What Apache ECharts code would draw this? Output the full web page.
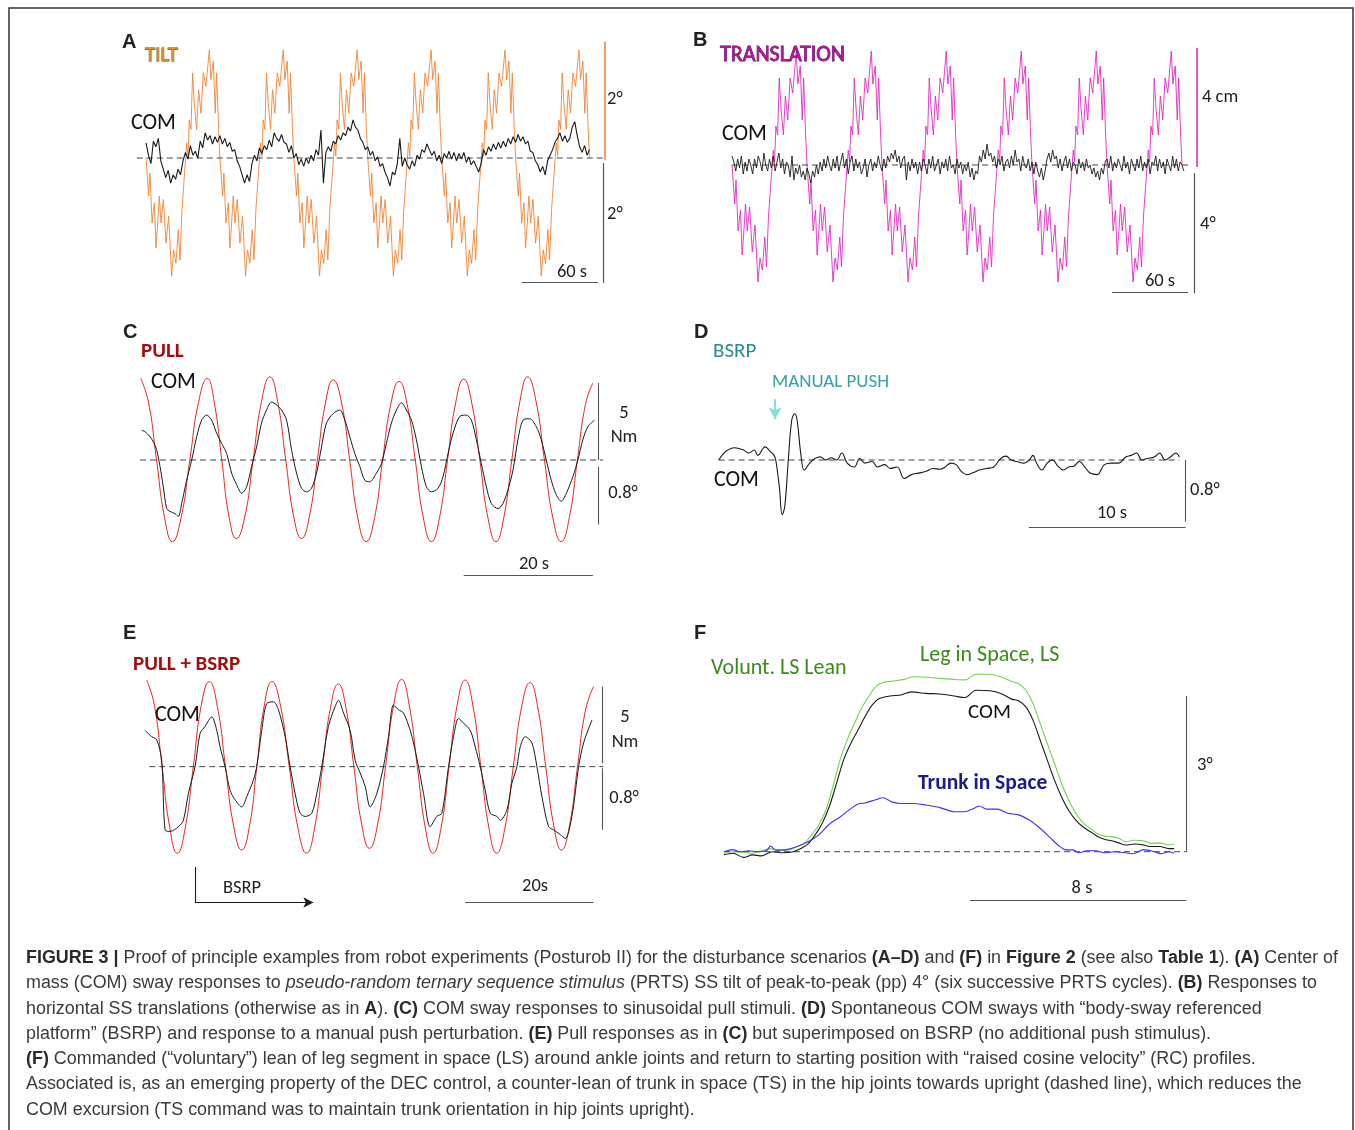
<!DOCTYPE html>
<html><head><meta charset="utf-8">
<script src="https://cdn.jsdelivr.net/npm/echarts/dist/echarts.min.js"></script>
<style>html,body{margin:0;padding:0;background:#fff}#c{width:1355px;height:1130px}</style>
</head><body><div id="c"></div>
<script>
// ---------------- DATA ----------------
// A/B: one PRTS stimulus cycle (60 s), tilt in deg
const prtsCycleT = [0,2.2,3.2,4.9,6.8,8.1,9.5,10.8,12.2,14.1,16.2,18.4,20.8,22.4,24.3,26.2,27.6,29.2,31.1,33.0,34.1,35.1,36.5,37.8,39.2,41.1,42.7,44.6,46.5,48.6,51.4,52.7,54.6,56.2,57.3,58.9,60];
const tiltCycleV = [0,-0.68,-0.27,-1.16,-0.80,-1.61,-1.16,-0.68,-1.16,-0.74,-1.52,-1.04,-2.11,-1.64,-1.88,-1.28,-1.82,-0.92,-0.33,0.27,0.03,0.68,0.51,1.52,0.98,0.51,1.22,0.80,1.52,1.28,1.93,1.40,1.73,0.80,1.52,0.51,0];
// translation in cm
const transCycleV = [0,-1.3,-0.5,-2.2,-1.5,-3.0,-2.2,-1.3,-2.2,-1.4,-2.9,-2.0,-3.9,-3.1,-3.5,-2.4,-3.4,-1.7,-0.6,0.5,0.1,1.3,1.0,2.9,1.9,1.0,2.3,1.5,2.9,2.4,3.8,2.7,3.3,1.5,2.9,1.0,0];
const prtsCycles = 6, prtsPeriod = 60;
// A: COM (deg), sampled every 2 s
const comAStep = 2;
const comA = [0.27,0.05,-0.10,0.30,0.20,0.35,-0.05,-0.20,-0.35,-0.22,
-0.45,-0.30,-0.38,-0.20,-0.30,-0.05,0.10,-0.02,0.22,0.05,
0.12,0.00,0.30,0.18,0.45,0.32,0.40,0.25,0.38,0.28,
0.40,0.25,0.35,0.20,0.28,0.12,0.15,-0.05,-0.15,-0.30,
-0.45,-0.30,-0.42,-0.10,0.05,-0.05,0.18,0.08,0.22,0.15,
0.32,0.20,0.45,0.35,0.30,0.42,0.28,0.25,0.10,0.22,
0.00,0.08,-0.12,-0.02,-0.15,0.00,-0.10,0.05,-0.05,0.15,
0.05,0.50,-0.45,0.10,0.20,0.12,0.30,0.25,0.40,0.32,
0.45,0.40,0.55,0.48,0.68,0.55,0.50,0.35,0.28,0.15,
0.20,0.05,0.12,-0.05,0.02,-0.15,-0.10,-0.25,-0.35,-0.50,
-0.25,-0.30,-0.10,0.35,-0.15,0.00,-0.12,-0.20,-0.05,-0.15,
0.05,-0.02,0.15,0.10,0.25,0.15,0.05,0.12,-0.05,0.05,
-0.10,0.08,0.00,0.12,-0.02,0.10,-0.05,0.08,-0.02,0.10,
-0.08,0.02,-0.12,-0.05,-0.15,-0.25,-0.10,0.15,0.05,0.20,
0.12,0.25,0.15,0.28,0.18,0.30,0.20,0.35,0.25,0.38,
0.28,0.42,0.30,0.38,0.25,0.30,0.12,0.10,-0.05,-0.12,
-0.25,-0.15,-0.30,-0.05,0.05,0.15,0.28,0.35,0.45,0.30,
0.40,0.28,0.35,0.55,0.65,0.40,0.20,0.10,0.22,0.05,
0.15];
// B: COM (deg), sampled every 1.5 s
const comBStep = 1.5;
const comB = [0.3,0.1,-0.2,0.2,-0.1,0.3,-0.3,0.1,-0.2,0.2,0.0,-0.3,0.2,-0.1,0.3,0.1,-0.2,0.4,0.0,-0.2,
0.2,-0.1,0.3,-0.2,0.1,0.4,-0.1,0.2,-0.3,0.1,0.0,-0.4,0.3,-0.5,-0.1,-0.3,0.0,-0.4,-0.2,-0.5,
-0.1,-0.3,-0.6,-0.2,-0.4,0.0,-0.3,0.1,-0.2,0.2,-0.1,0.3,0.0,-0.2,0.2,-0.1,0.3,-0.2,0.1,0.4,
-0.1,0.2,-0.3,0.1,0.3,-0.2,0.2,-0.1,0.1,-0.3,-0.1,0.2,-0.4,0.0,0.2,-0.2,0.1,-0.1,0.3,0.0,
-0.2,0.2,-0.1,0.3,0.1,0.4,0.2,0.5,0.1,0.3,-0.1,0.2,0.3,-0.5,0.1,-0.2,0.2,-0.1,0.1,-0.3,
0.1,-0.2,0.2,0.0,-0.3,0.2,-0.1,0.3,-0.2,0.0,0.2,-0.3,0.1,-0.1,0.2,-0.2,0.3,-0.1,0.0,-0.3,
0.2,-0.1,0.1,-0.3,0.0,-0.2,0.1,-0.4,-0.1,-0.5,-0.2,-0.3,0.3,0.1,0.5,0.2,0.7,0.3,0.4,0.1,
0.3,-0.1,0.2,0.0,0.3,-0.2,0.1,0.2,-0.1,0.3,0.0,0.5,0.1,0.2,-0.2,0.3,0.0,-0.1,0.2,-0.2,
0.1,-0.3,0.1,-0.2,-0.4,-0.1,-0.5,-0.2,0.2,0.4,0.1,0.5,0.2,0.3,-0.1,0.2,-0.2,0.1,0.3,-0.1,
0.2,-0.2,0.1,0.0,-0.3,0.2,-0.1,0.1,-0.2,0.2,-0.1,0.0,-0.3,-0.1,-0.4,-0.2,-0.5,-0.1,-0.3,0.1,
0.2,-0.1,0.3,-0.2,0.1,-0.1,0.2,0.0,-0.2,0.3,-0.1,0.1,-0.3,0.2,0.0,-0.2,0.2,-0.1,0.3,-0.2,
0.1,-0.1,0.2,-0.3,0.1,0.0,0.3,-0.2,0.2,-0.1,0.1,-0.3,0.2,0.0,-0.2,0.3,-0.1,0.2,-0.2,0.1,
0.0,-0.2];
// C: pull torque (Nm) and COM (deg) as [t s, value]
const pullC = [[0,5.3],[1.2,3.75],[2.45,0],[3.7,-3.75],[4.9,-5.3],[6.25,-3.75],[7.6,0],[8.95,3.75],[10.3,5.3],[11.4,3.7],[12.55,0],[13.7,-3.75],[14.8,-5.1],[16.1,-3.7],[17.4,0],[18.7,3.8],[20.0,5.4],[21.2,3.8],[22.45,0],[23.7,-3.7],[24.9,-5.1],[26.1,-3.7],[27.35,0],[28.6,3.7],[29.8,5.2],[31.1,3.7],[32.35,0],[33.6,-3.75],[34.9,-5.3],[36.2,-3.75],[37.45,0],[38.7,3.6],[40.0,5.1],[41.25,3.6],[42.5,0],[43.75,-3.75],[45.0,-5.3],[46.25,-3.75],[47.5,0],[48.75,3.7],[50.0,5.25],[51.25,3.7],[52.5,0],[53.75,-3.75],[55.0,-5.3],[56.2,-3.75],[57.45,0],[58.7,3.8],[59.9,5.4],[61.2,3.8],[62.5,0],[63.8,-3.75],[65.1,-5.3],[66.35,-3.75],[67.6,0],[68.85,3.6],[70.0,5.0]];
const comC = [[0.15,0.41],[0.67,0.39],[1.44,0.32],[1.96,0.25],[2.47,0.14],[2.99,-0.09],[3.5,-0.37],[4.02,-0.67],[4.54,-0.71],[5.31,-0.74],[5.82,-0.78],[6.34,-0.60],[7.11,-0.28],[7.89,0],[8.66,0.32],[9.43,0.55],[10.2,0.62],[10.98,0.55],[11.75,0.37],[12.53,0.23],[13.3,0.09],[14.07,-0.18],[14.85,-0.34],[15.62,-0.46],[16.39,-0.37],[17.16,-0.09],[17.94,0.18],[18.71,0.51],[19.48,0.69],[20.26,0.80],[21.03,0.76],[21.8,0.69],[22.58,0.55],[23.35,0.14],[24.12,-0.18],[24.9,-0.39],[25.67,-0.44],[26.44,-0.39],[27.22,-0.18],[27.99,0.18],[28.76,0.51],[29.79,0.64],[30.82,0.69],[31.6,0.55],[32.37,0.32],[33.14,0.09],[33.92,-0.09],[34.69,-0.28],[35.46,-0.30],[36.49,-0.18],[37.27,-0.05],[38.04,0.23],[38.81,0.51],[39.59,0.69],[40.36,0.79],[41.13,0.69],[41.91,0.55],[42.68,0.28],[43.45,-0.09],[44.23,-0.37],[45,-0.44],[46.03,-0.39],[46.8,-0.23],[47.58,0.09],[48.35,0.37],[49.38,0.60],[50.41,0.62],[51.19,0.55],[51.96,0.28],[52.73,-0.05],[53.51,-0.37],[54.28,-0.60],[55.31,-0.67],[56.08,-0.60],[56.86,-0.41],[57.63,-0.14],[58.4,0.28],[59.18,0.55],[60.21,0.57],[61.24,0.46],[62.01,0.28],[62.78,0],[63.56,-0.28],[64.33,-0.48],[65.1,-0.57],[65.88,-0.46],[66.91,-0.23],[67.68,0],[68.45,0.28],[69.23,0.46],[70.26,0.55]];
// D: BSRP COM (deg)
const comD = [[0,0],[0.45,0.11],[1.02,0.16],[1.59,0.13],[1.93,0.09],[2.27,0.13],[2.5,0.06],[2.96,0.17],[3.3,0.11],[3.53,0.06],[3.64,0],[3.87,-0.35],[4.05,-0.71],[4.21,-0.61],[4.44,0],[4.66,0.52],[4.85,0.60],[5.0,0.52],[5.23,0.09],[5.46,-0.13],[5.8,-0.04],[6.14,0.02],[6.48,0.04],[6.82,0],[7.17,0.03],[7.51,0],[7.85,0.09],[8.19,-0.04],[8.64,-0.09],[8.99,0.02],[9.33,-0.04],[9.78,-0.02],[10.12,-0.09],[10.58,-0.06],[10.92,-0.11],[11.37,-0.09],[11.83,-0.24],[12.28,-0.19],[12.74,-0.17],[13.19,-0.15],[13.65,-0.11],[14.1,-0.12],[14.44,-0.09],[14.79,-0.04],[15.13,-0.06],[15.47,-0.15],[15.81,-0.19],[16.15,-0.17],[16.61,-0.13],[17.06,-0.11],[17.52,-0.09],[17.97,0.02],[18.31,0.05],[18.65,0],[18.99,-0.02],[19.45,-0.04],[19.79,0],[20.02,0.06],[20.25,-0.04],[20.59,-0.13],[20.93,-0.04],[21.27,0],[21.61,-0.08],[21.95,-0.13],[22.29,-0.09],[22.63,-0.08],[22.98,-0.02],[23.32,-0.09],[23.66,-0.17],[24.11,-0.19],[24.57,-0.06],[25.02,-0.04],[25.48,-0.04],[25.93,0.04],[26.27,0.06],[26.62,0.09],[26.96,0],[27.3,0.02],[27.75,0.04],[28.09,0.09],[28.44,0],[28.78,0.04],[29.12,0.09],[29.35,0.04]];
const pushTime = 3.6;
// E: pull torque (Nm) and COM (deg)
const pullE = [[0,5.66],[1.2,4.0],[2.4,0],[3.6,-4.0],[4.77,-5.66],[6.0,-4.0],[7.26,0],[8.5,4.0],[9.75,5.56],[11.0,3.95],[12.27,0],[13.55,-3.9],[14.8,-5.45],[16.0,-3.9],[17.15,0],[18.3,3.95],[19.5,5.56],[20.85,3.95],[22.2,0],[23.55,-4.0],[24.9,-5.66],[26.15,-4.0],[27.4,0],[28.6,3.8],[29.85,5.4],[31.05,3.8],[32.27,0],[33.5,-3.8],[34.7,-5.34],[35.95,-3.8],[37.2,0],[38.45,4.0],[39.7,5.7],[40.9,4.0],[42.15,0],[43.4,-4.0],[44.6,-5.66],[45.85,-4.0],[47.1,0],[48.35,4.0],[49.6,5.66],[50.8,4.0],[52.05,0],[53.3,-4.0],[54.5,-5.66],[55.8,-4.0],[57.1,0],[58.4,3.9],[59.7,5.49],[60.9,3.9],[62.15,0],[63.4,-3.85],[64.6,-5.45],[65.85,-3.85],[67.1,0],[68.35,3.7],[69.6,5.23]];
const comE = [[-0.26,0.46],[0.78,0.38],[1.56,0.34],[2.34,0.08],[2.86,-0.80],[3.64,-0.82],[4.94,-0.76],[5.71,-0.68],[6.49,-0.34],[7.53,0],[8.31,0.42],[9.09,0.51],[10.13,0.63],[10.91,0.46],[11.43,0.25],[12.21,0],[12.99,-0.30],[13.77,-0.42],[14.81,-0.51],[15.58,-0.38],[16.62,-0.17],[17.14,0],[17.92,0.46],[18.70,0.80],[19.74,0.82],[20.52,0.72],[21.56,0.38],[22.34,0],[23.12,-0.34],[23.90,-0.59],[24.68,-0.63],[25.71,-0.59],[26.49,-0.34],[27.27,0],[28.31,0.51],[29.35,0.76],[29.87,0.84],[30.65,0.68],[31.69,0.46],[32.47,0.08],[33.25,-0.08],[34.03,-0.25],[34.81,-0.51],[35.84,-0.34],[36.88,0],[37.66,0.38],[38.44,0.78],[39.22,0.72],[40.00,0.68],[41.04,0.46],[41.56,0.30],[42.34,0],[43.12,-0.34],[44.16,-0.76],[45.19,-0.63],[45.97,-0.59],[47.01,0],[47.79,0.38],[48.57,0.61],[49.35,0.55],[50.39,0.46],[51.17,0.25],[51.95,0],[52.73,-0.30],[53.51,-0.59],[54.55,-0.63],[55.06,-0.68],[56.10,-0.55],[56.88,-0.21],[57.66,0],[58.18,0.25],[58.96,0.38],[60.00,0.30],[60.78,0],[61.56,-0.38],[62.60,-0.76],[63.38,-0.80],[64.42,-0.86],[65.19,-0.91],[66.23,-0.63],[67.27,0],[68.05,0.30],[69.35,0.59]];
// F: voluntary lean (deg)
const legF = [[0,-0.03],[0.33,0],[0.73,-0.01],[0.99,-0.03],[1.39,0.02],[1.72,0.06],[2.05,0.03],[2.45,0.04],[2.71,0.10],[2.98,0.17],[3.24,0.32],[3.5,0.51],[3.77,0.80],[4.03,1.25],[4.3,1.77],[4.56,2.15],[4.83,2.47],[5.09,2.76],[5.36,2.99],[5.62,3.18],[5.89,3.26],[6.28,3.29],[6.68,3.32],[7.01,3.37],[7.47,3.36],[8.0,3.34],[8.53,3.32],[8.93,3.31],[9.33,3.42],[9.85,3.42],[10.25,3.37],[10.65,3.28],[10.91,3.24],[11.18,3.11],[11.44,2.86],[11.71,2.47],[11.97,2.09],[12.24,1.70],[12.5,1.32],[12.76,1.00],[13.03,0.74],[13.29,0.56],[13.56,0.45],[13.82,0.35],[14.09,0.30],[14.35,0.29],[14.62,0.26],[14.88,0.19],[15.21,0.22],[15.54,0.21],[15.81,0.16],[16.14,0.17],[16.47,0.13],[16.67,0.15]];
const comF = [[0,-0.06],[0.33,-0.03],[0.73,-0.11],[1.06,-0.06],[1.39,-0.08],[1.79,0],[2.18,-0.02],[2.58,0],[2.84,0.06],[3.11,0.15],[3.37,0.32],[3.64,0.55],[3.9,0.87],[4.17,1.32],[4.43,1.77],[4.7,2.09],[4.96,2.34],[5.22,2.60],[5.49,2.83],[5.75,2.95],[6.15,3.0],[6.55,3.02],[6.94,3.08],[7.47,3.05],[8.0,3.04],[8.53,3.0],[8.93,2.97],[9.33,3.11],[9.85,3.10],[10.25,3.05],[10.65,2.94],[10.91,2.91],[11.18,2.79],[11.44,2.54],[11.71,2.15],[11.97,1.77],[12.24,1.38],[12.5,1.06],[12.76,0.80],[13.03,0.61],[13.29,0.48],[13.56,0.39],[13.82,0.30],[14.09,0.24],[14.35,0.21],[14.62,0.17],[14.88,0.13],[15.21,0.15],[15.54,0.13],[15.81,0.10],[16.14,0.10],[16.47,0.06],[16.67,0.06]];
const trunkF = [[0,0],[0.33,0.04],[0.6,0],[0.93,0.02],[1.26,0],[1.59,0.03],[1.72,0.11],[1.92,0.03],[2.31,0.04],[2.71,0.10],[3.11,0.19],[3.5,0.32],[3.9,0.53],[4.3,0.67],[4.7,0.83],[4.96,0.92],[5.22,0.94],[5.62,1.0],[5.89,1.04],[6.22,0.96],[6.55,0.93],[7.01,0.93],[7.47,0.90],[8.0,0.85],[8.53,0.77],[8.93,0.77],[9.19,0.82],[9.46,0.88],[9.72,0.82],[10.12,0.82],[10.52,0.74],[10.91,0.71],[11.31,0.61],[11.57,0.51],[11.84,0.39],[12.1,0.26],[12.37,0.13],[12.63,0.04],[12.96,0.03],[13.16,-0.02],[13.43,0.02],[13.76,0.02],[14.09,-0.02],[14.48,0],[14.88,-0.02],[15.15,-0.04],[15.54,0.04],[15.94,0],[16.2,-0.04],[16.47,0],[16.67,-0.03]];
// Caption
const captionLines = [
 '{b|FIGURE 3 |} Proof of principle examples from robot experiments (Posturob II) for the disturbance scenarios {b|(A–D)} and {b|(F)} in {b|Figure 2} (see also {b|Table 1}). {b|(A)} Center of',
 'mass (COM) sway responses to {i|pseudo-random ternary sequence stimulus} (PRTS) SS tilt of peak-to-peak (pp) 4° (six successive PRTS cycles). {b|(B)} Responses to',
 'horizontal SS translations (otherwise as in {b|A}). {b|(C)} COM sway responses to sinusoidal pull stimuli. {b|(D)} Spontaneous COM sways with “body-sway referenced',
 'platform” (BSRP) and response to a manual push perturbation. {b|(E)} Pull responses as in {b|(C)} but superimposed on BSRP (no additional push stimulus).',
 '{b|(F)} Commanded (“voluntary”) lean of leg segment in space (LS) around ankle joints and return to starting position with “raised cosine velocity” (RC) profiles.',
 'Associated is, as an emerging property of the DEC control, a counter-lean of trunk in space (TS) in the hip joints towards upright (dashed line), which reduces the',
 'COM excursion (TS command was to maintain trunk orientation in hip joints upright).'
];

// ---------------- BUILD ----------------
function repeatCycle(T, V, n, period) {
  const out = [];
  for (let k = 0; k < n; k++) for (let i = 0; i < T.length; i++) out.push([T[i] + k * period, V[i]]);
  return out;
}
const stepped = (arr, step) => arr.map((v, i) => [i * step, v]);

const C_TILT = '#f08436', C_TRANS = '#e02cc2', C_RED = '#e8231f', C_GREEN = '#74d052', C_BLUE = '#3d35e6';
const GREY = '#555', BLACK = '#1a1a1a';

const grids = [
  {left: 133.7, top: 18, width: 474.3, height: 280},
  {left: 725.75, top: 30, width: 475, height: 270},
  {left: 127.8, top: 336.8, width: 478, height: 246.4},
  {left: 702.9, top: 367.6, width: 502.4, height: 184.8},
  {left: 133.86, top: 621.3, width: 475.1, height: 290.7},
  {left: 710.5, top: 644.1, width: 486, height: 269.9}
];
const xr = [[-10, 375], [-5, 375], [-2, 72], [-1, 31], [-2, 72], [-0.5, 17.5]];
const xAxis = xr.map((r, i) => ({type: 'value', gridIndex: i, min: r[0], max: r[1], show: false}));
const yr = [[0, -2.5, 2.5], [1, -4.5, 4.5], [2, -8, 8], [2, -1.7, 1.7], [3, -1.2, 1.2], [4, -9.5, 9.5], [4, -1.84, 1.84], [5, -1.2, 4]];
const yAxis = yr.map(r => ({type: 'value', gridIndex: r[0], min: r[1], max: r[2], show: false}));

function ln(xi, yi, data, color, w, extra) {
  return Object.assign({type: 'line', xAxisIndex: xi, yAxisIndex: yi, data, symbol: 'none', silent: true,
    animation: false, lineStyle: {color, width: w}}, extra || {});
}
function seg(a, b, color, w, sym) {
  return [{coord: a, symbol: sym ? sym[0] : 'none', lineStyle: {color, width: w, type: 'solid'}},
          {coord: b, symbol: sym ? sym[1] : 'none', lineStyle: {color, width: w, type: 'solid'}}];
}
function ml(segs, symSize) {
  return {silent: true, animation: false, symbol: 'none', symbolSize: symSize || [9, 11], label: {show: false}, data: segs};
}
function zero(xi, yi, x0, x1, segs, symSize) {
  return ln(xi, yi, [[x0, 0], [x1, 0]], '#444', 1, {lineStyle: {color: '#444', width: 1, type: [6, 4]}, markLine: segs ? ml(segs, symSize) : undefined});
}

const series = [
  // A
  ln(0, 0, repeatCycle(prtsCycleT, tiltCycleV, prtsCycles, prtsPeriod), C_TILT, 0.9),
  zero(0, 0, -7.5, 371, [
    seg([372.5, 2.08], [372.5, -0.03], C_TILT, 1.6),
    seg([371, -0.09], [371, -2.23], GREY, 1.2),
    seg([305, -2.21], [367, -2.21], GREY, 1.2)]),
  ln(0, 0, stepped(comA, comAStep), BLACK, 1.1),
  // B
  ln(1, 1, repeatCycle(prtsCycleT, transCycleV, prtsCycles, prtsPeriod), C_TRANS, 0.9),
  zero(1, 1, 0, 367.8, [
    seg([372, 3.9], [372, -0.07], C_TRANS, 1.6),
    seg([369.6, -0.27], [369.6, -4.27], GREY, 1.2),
    seg([304, -4.23], [364.8, -4.23], GREY, 1.2)]),
  ln(1, 1, stepped(comB, comBStep), BLACK, 0.9),
  // C
  ln(2, 2, pullC, C_RED, 1, {smooth: 0.5, markLine: ml([seg([70.8, 5.0], [70.8, 0], GREY, 1.1)])}),
  zero(2, 3, -0.1, 71.6, [
    seg([70.8, -0.09], [70.8, -0.89], GREY, 1.1),
    seg([50, -1.59], [70, -1.59], GREY, 1.1)]),
  ln(2, 3, comC, BLACK, 1, {smooth: 0.3}),
  // D
  zero(3, 4, 0, 29.35, [
    seg([29.75, 0], [29.75, -0.8], GREY, 1.1),
    seg([19.75, -0.87], [29.75, -0.87], GREY, 1.1),
    seg([pushTime, 0.79], [pushTime, 0.53], '#7fe0dc', 2.2, ['none', 'arrow'])], [10, 12]),
  ln(3, 4, comD, BLACK, 1.1, {smooth: 0.4}),
  // E
  ln(4, 5, pullE, C_RED, 1, {smooth: 0.5, markLine: ml([seg([70.9, 5.23], [70.9, 0.22], GREY, 1.1)])}),
  zero(4, 6, 0.4, 71.1, [
    seg([70.9, -0.02], [70.9, -0.8], GREY, 1.1),
    seg([49.6, -1.72], [69.6, -1.72], GREY, 1.1),
    seg([7.52, -1.27], [7.52, -1.72], BLACK, 1.1),
    seg([7.52, -1.72], [25.95, -1.72], BLACK, 1.1, ['none', 'arrow'])], [8, 10]),
  ln(4, 6, comE, BLACK, 1, {smooth: 0.3}),
  // F
  zero(5, 7, 0, 17.13, [
    seg([17.13, 3.0], [17.13, 0], GREY, 1.1),
    seg([9.11, -0.93], [17.13, -0.93], GREY, 1.1)]),
  ln(5, 7, legF, C_GREEN, 1.1, {smooth: 0.3}),
  ln(5, 7, comF, BLACK, 1.1, {smooth: 0.3}),
  ln(5, 7, trunkF, C_BLUE, 1.1, {smooth: 0.3})
];

// ---------------- TEXT ----------------
const FF = 'Carlito, Lato, "Open Sans", sans-serif';
const LF = '"Liberation Sans", Arial, sans-serif';
function T(text, x, y, size, fill, opt) {
  opt = opt || {};
  const font = (opt.weight ? opt.weight + ' ' : '') + size + 'px ' + (opt.family || FF);
  const st = {text, fill, font, align: opt.align || 'left', verticalAlign: 'middle',
              textAlign: opt.align || 'left', textVerticalAlign: 'middle'};
  if (opt.stroke) { st.stroke = opt.stroke; st.lineWidth = opt.sw || 0.7; }
  return {type: 'text', x, y, silent: true, z: 100, style: st};
}
const SB = 18.5; // scale-bar label size
const texts = [
  T('A', 122, 42, 20, '#222', {weight: 'bold', family: LF}),
  T('B', 693, 40, 20, '#222', {weight: 'bold', family: LF}),
  T('C', 123, 332, 20, '#222', {weight: 'bold', family: LF}),
  T('D', 694, 332, 20, '#222', {weight: 'bold', family: LF}),
  T('E', 123, 633, 20, '#222', {weight: 'bold', family: LF}),
  T('F', 694, 633, 20, '#222', {weight: 'bold', family: LF}),
  T('TILT', 145, 56, 21, '#d9912e', {stroke: '#5a3a10', sw: 0.8}),
  T('COM', 131, 123, 22, '#111'),
  T('2°', 607, 99, SB, '#222'),
  T('2°', 607, 214, SB, '#222'),
  T('60 s', 572, 272, SB, '#222', {align: 'center'}),
  T('TRANSLATION', 720, 55, 22, '#b0179c', {stroke: '#4a0840', sw: 0.8}),
  T('COM', 722, 134, 22, '#111'),
  T('4 cm', 1202, 97, SB, '#222'),
  T('4°', 1200, 224, SB, '#222'),
  T('60 s', 1160, 281, SB, '#222', {align: 'center'}),
  T('PULL', 141, 352, 21, '#a30d0d', {weight: 'bold'}),
  T('COM', 151, 382, 22, '#111'),
  T('5', 624, 413, SB, '#222', {align: 'center'}),
  T('Nm', 624, 437, SB, '#222', {align: 'center'}),
  T('0.8°', 623, 493, SB, '#222', {align: 'center'}),
  T('20 s', 534, 564, SB, '#222', {align: 'center'}),
  T('BSRP', 713, 352, 21, '#2c8c8c'),
  T('MANUAL PUSH', 772, 382, 19, '#35a3a0'),
  T('COM', 714, 480, 22, '#111'),
  T('0.8°', 1190, 490, SB, '#222'),
  T('10 s', 1112, 513, SB, '#222', {align: 'center'}),
  T('PULL + BSRP', 133, 665, 21, '#a30d0d', {weight: 'bold'}),
  T('COM', 155, 715, 22, '#111'),
  T('5', 625, 717, SB, '#222', {align: 'center'}),
  T('Nm', 625, 742, SB, '#222', {align: 'center'}),
  T('0.8°', 624, 798, SB, '#222', {align: 'center'}),
  T('20s', 535, 886, SB, '#222', {align: 'center'}),
  T('BSRP', 242, 888, SB, '#222', {align: 'center'}),
  T('Volunt. LS Lean', 711, 668, 22, '#3b8a1c'),
  T('Leg in Space, LS', 920, 655, 22, '#3b8a1c'),
  T('COM', 968, 713, 21, '#111'),
  T('Trunk in Space', 918, 784, 21.5, '#1d1a8c', {weight: 'bold'}),
  T('3°', 1197, 765, SB, '#222'),
  T('8 s', 1082, 888, SB, '#222', {align: 'center'})
];

// caption
const CAP_SIZE = 18, CAP_FAM = '"Liberation Sans", Arial, sans-serif';
const capFont = k => (k === 'b' ? 'bold ' : k === 'i' ? 'italic ' : '') + CAP_SIZE + 'px ' + CAP_FAM;
const mctx = document.createElement('canvas').getContext('2d');
function measure(line) {
  let w = 0; const re = /\{(\w)\|([^}]*)\}|([^{]+)/g; let m;
  while ((m = re.exec(line))) {
    if (m[3] !== undefined) { mctx.font = capFont(''); w += mctx.measureText(m[3]).width; }
    else { mctx.font = capFont(m[1]); w += mctx.measureText(m[2]).width; }
  }
  return w;
}
const capScale = 1312 / measure(captionLines[0]);
const capTexts = captionLines.map((line, i) => ({
  type: 'text', x: 26, y: 958 + i * 25.3, scaleX: capScale, silent: true, z: 100,
  style: {text: line, font: capFont(''), fill: '#3a3a3a', align: 'left', verticalAlign: 'middle',
    textAlign: 'left', textVerticalAlign: 'middle',
    rich: {b: {font: capFont('b'), fill: '#2a2a2a'}, i: {font: capFont('i'), fill: '#3a3a3a'}}}
}));

const border = {type: 'rect', silent: true, z: 90, shape: {x: 9, y: 8, width: 1344, height: 1150},
  style: {fill: 'none', stroke: '#333', lineWidth: 1.5}};

const chart = echarts.init(document.getElementById('c'), null, {renderer: 'canvas'});
chart.setOption({
  animation: false,
  backgroundColor: '#fff',
  grid: grids,
  xAxis, yAxis, series,
  graphic: [border].concat(texts, capTexts)
});
</script></body></html>
